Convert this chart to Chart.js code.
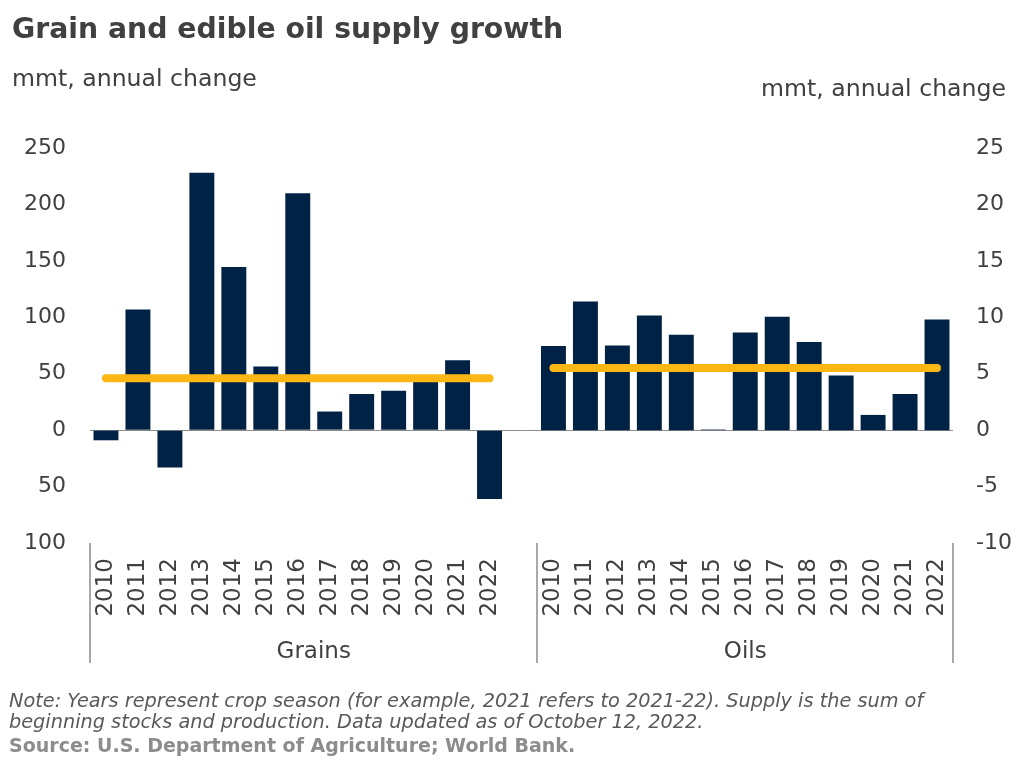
<!DOCTYPE html>
<html><head><meta charset="utf-8">
<script src="https://cdn.jsdelivr.net/npm/chart.js@4.4.1/dist/chart.umd.min.js"></script>
<style>
html,body{margin:0;padding:0;background:#fff;}
#wrap{position:relative;width:1024px;height:768px;overflow:hidden;background:#fff;}
#c{position:absolute;left:0;top:0;width:1024px;height:768px;}
.t{position:absolute;white-space:nowrap;line-height:1;font-family:"DejaVu Sans",sans-serif;color:#404040;}
.n{font-style:italic;font-size:19.3px;line-height:21px;color:#595959;}
.s{font-weight:bold;font-size:19px;color:#8c8c8c;}
</style></head><body>
<div id="wrap">
<canvas id="c" width="1024" height="768"></canvas>
<div class="t" style="left:12px;top:15px;font-size:28.3px;font-weight:bold;">Grain and edible oil supply growth</div>
<div class="t" style="left:12px;top:67px;font-size:23.6px;">mmt, annual change</div>
<div class="t" style="right:18px;top:77px;font-size:23.6px;">mmt, annual change</div>
<div class="t n" style="left:9px;top:690px;">Note: Years represent crop season (for example, 2021 refers to 2021-22). Supply is the sum of<br>beginning stocks and production. Data updated as of October 12, 2022.</div>
<div class="t s" style="left:9px;top:736px;">Source: U.S. Department of Agriculture; World Bank.</div>
</div>
<script>
const grainYears = ['2010','2011','2012','2013','2014','2015','2016','2017','2018','2019','2020','2021','2022'];
const oilYears   = ['2010','2011','2012','2013','2014','2015','2016','2017','2018','2019','2020','2021','2022'];
const grainValues = [-9, 107, -33, 228, 144.5, 56.5, 210, 16.5, 32, 35, 44, 62, -61];
const oilValues   = [7.45, 11.4, 7.5, 10.15, 8.45, 0.05, 8.65, 10.05, 7.8, 4.85, 1.35, 3.2, 9.8];
const grainLevel = 46;
const oilLevel = 5.5;
const groupNames = ['Grains', 'Oils'];
const leftTickLabels  = ['100', '50', '0', '50', '100', '150', '200', '250'];
const rightTickLabels = ['-10', '-5', '0', '5', '10', '15', '20', '25'];

const gap = [''];
const labels = [...grainYears, ...gap, ...oilYears];
const noneG = grainYears.map(() => null);
const noneO = oilYears.map(() => null);
const grainBars = [...grainValues, null, ...noneO];
const oilBars = [...noneG, null, ...oilValues];
const grainLine = [...grainYears.map(() => grainLevel), null, ...noneO];
const oilLine = [...noneG, null, ...oilYears.map(() => oilLevel)];

const NAVY = '#002244';
const GOLD = '#FDB714';
const TXT = '#404040';

const groupPlugin = {
  id: 'groups',
  afterDraw(chart) {
    const { ctx, chartArea, scales: { x } } = chart;
    const half = (x.getPixelForValue(1) - x.getPixelForValue(0)) / 2;
    const b = [
      x.getPixelForValue(0) - half,
      x.getPixelForValue(grainYears.length + 1) - half,
      x.getPixelForValue(labels.length - 1) + half
    ];
    ctx.save();
    ctx.strokeStyle = '#8c8c8c';
    ctx.lineWidth = 1.5;
    b.forEach(px => {
      ctx.beginPath();
      ctx.moveTo(Math.round(px), chartArea.bottom);
      ctx.lineTo(Math.round(px), chartArea.bottom + 120);
      ctx.stroke();
    });
    ctx.font = '23px "DejaVu Sans"';
    ctx.fillStyle = TXT;
    ctx.textAlign = 'center';
    ctx.textBaseline = 'middle';
    ctx.fillText(groupNames[0], (b[0] + b[1]) / 2, chartArea.bottom + 109);
    ctx.fillText(groupNames[1], (b[1] + b[2]) / 2, chartArea.bottom + 109);
    ctx.restore();
  }
};

new Chart(document.getElementById('c'), {
  data: {
    labels,
    datasets: [
      { type: 'line', data: grainLine, yAxisID: 'y', borderColor: GOLD, borderWidth: 8, borderCapStyle: 'round', pointRadius: 0, order: 0, spanGaps: false },
      { type: 'line', data: oilLine, yAxisID: 'y1', borderColor: GOLD, borderWidth: 8, borderCapStyle: 'round', pointRadius: 0, order: 0, spanGaps: false },
      { type: 'bar', data: grainBars, yAxisID: 'y', backgroundColor: NAVY, grouped: false, barPercentage: 0.78, categoryPercentage: 1, order: 1 },
      { type: 'bar', data: oilBars, yAxisID: 'y1', backgroundColor: NAVY, grouped: false, barPercentage: 0.78, categoryPercentage: 1, order: 1 }
    ]
  },
  options: {
    responsive: false,
    devicePixelRatio: 1,
    animation: false,
    layout: { padding: { top: 148, left: 0, right: 0, bottom: 0 } },
    plugins: { legend: { display: false }, tooltip: { enabled: false } },
    scales: {
      x: {
        type: 'category',
        offset: true,
        grid: { display: false, drawTicks: false },
        border: { display: false },
        ticks: { autoSkip: false, minRotation: 90, maxRotation: 90, padding: 15, color: TXT, font: { family: 'DejaVu Sans', size: 23 } },
        afterFit(s) { s.height = 225; }
      },
      y: {
        position: 'left',
        min: -100, max: 250,
        grid: { drawTicks: false, lineWidth: 1, color: c => c.tick && c.tick.value === 0 ? '#8c8c8c' : 'rgba(0,0,0,0)' },
        border: { display: false },
        ticks: { stepSize: 50, padding: 24, color: TXT, font: { family: 'DejaVu Sans', size: 22 }, callback: (v, i) => leftTickLabels[i] },
        afterFit(s) { s.width = 90; }
      },
      y1: {
        position: 'right',
        min: -10, max: 25,
        grid: { display: false, drawTicks: false },
        border: { display: false },
        ticks: { stepSize: 5, padding: 23, color: TXT, font: { family: 'DejaVu Sans', size: 22 }, callback: (v, i) => rightTickLabels[i] },
        afterFit(s) { s.width = 71; }
      }
    }
  },
  plugins: [groupPlugin]
});
</script>
</body></html>
